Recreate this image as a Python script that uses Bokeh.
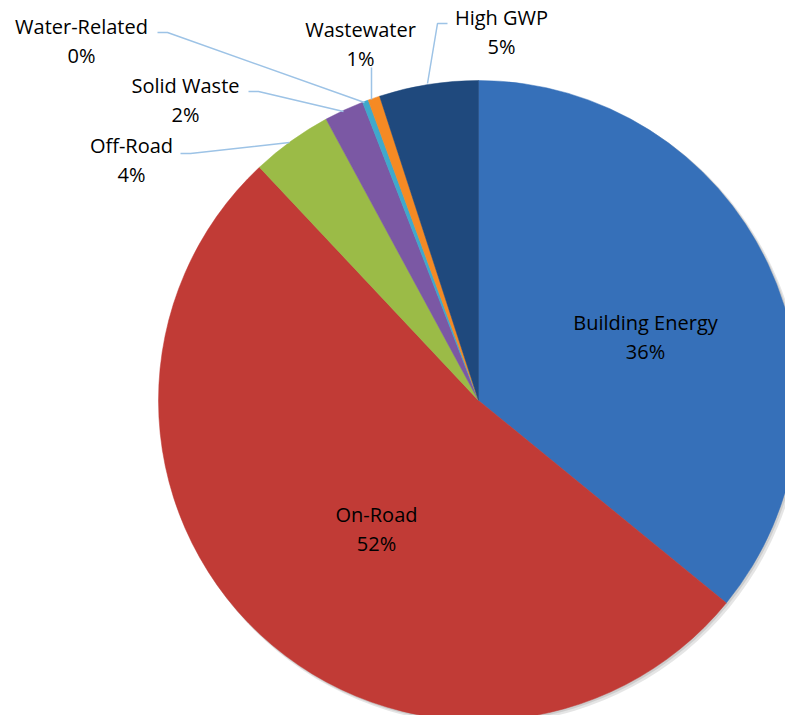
import math
from bokeh.plotting import figure
from bokeh.models import Range1d, ColumnDataSource
from bokeh.core.properties import value
from bokeh.embed import file_html
from bokeh.resources import INLINE

# ---- data ----
categories = ["Building Energy", "On-Road", "Off-Road", "Solid Waste",
              "Water-Related", "Wastewater", "High GWP"]
shares = [35.9, 52.1, 4.1, 2.0, 0.3, 0.6, 5.0]
pct_labels = ["36%", "52%", "4%", "2%", "0%", "1%", "5%"]
colors = ["#3670b9", "#c13b36", "#9bbb47", "#7b58a4", "#3fa9cc", "#f58a24", "#1f497d"]

# ---- layout (screen-pixel coordinates, y downward) ----
W, H = 785, 715
CX, CY, R = 478, 400, 320
# label anchor (center x, first baseline y) in screen px
label_pos = {
    "Building Energy": (645, 322),
    "On-Road": (376, 514),
    "Off-Road": (131, 145),
    "Solid Waste": (185, 85),
    "Water-Related": (81, 26),
    "Wastewater": (360, 29),
    "High GWP": (501, 17),
}
leaders = {
    "Water-Related": [(157, 32), (167, 32), (364, 102)],
    "Solid Waste": [(248, 91), (258, 91), (343, 111)],
    "Off-Road": [(180, 153), (190, 153), (289, 142)],
    "Wastewater": [(371, 67), (371, 99)],
    "High GWP": [(447, 23), (437, 23), (427, 83)],
}

p = figure(width=W, height=H, output_backend="svg", toolbar_location=None,
           x_range=Range1d(0, W), y_range=Range1d(-H, 0),
           min_border=0)
p.axis.visible = False
p.grid.visible = False
p.outline_line_color = None
p.background_fill_color = "white"

total = sum(shares)
starts, ends = [], []
cum = 0.0
for s in shares:
    starts.append(math.pi / 2 - 2 * math.pi * cum / total)
    cum += s
    ends.append(math.pi / 2 - 2 * math.pi * cum / total)

# soft shadow
p.circle(x=[CX + 3], y=[-(CY + 3)], radius=R + 1, fill_color="#000000",
         fill_alpha=0.10, line_color=None)
p.circle(x=[CX + 1.5], y=[-(CY + 1.5)], radius=R + 0.5, fill_color="#000000",
         fill_alpha=0.10, line_color=None)

src = ColumnDataSource(dict(cat=categories, start=starts, end=ends, color=colors,
                            x=[CX] * len(categories), y=[-CY] * len(categories)))
p.wedge(x="x", y="y", radius=R, start_angle="start", end_angle="end",
        direction="clock", fill_color="color", line_color="color",
        line_width=0.5, source=src)

# leader lines
for cat, pts in leaders.items():
    p.line([q[0] for q in pts], [-q[1] for q in pts], line_color="#9dc3e6",
           line_width=1.5)

# labels
tx, ty, tt = [], [], []
for cat, pct in zip(categories, pct_labels):
    x0, y0 = label_pos[cat]
    tx += [x0, x0]
    ty += [-y0, -(y0 + 28.5)]
    tt += [cat, pct]
p.text(x=tx, y=ty, text=tt, text_align="center", text_baseline="alphabetic",
       text_font=value("Open Sans"), text_font_size="20px", text_color="#000000")

open("out.html", "w").write(file_html(p, INLINE))
